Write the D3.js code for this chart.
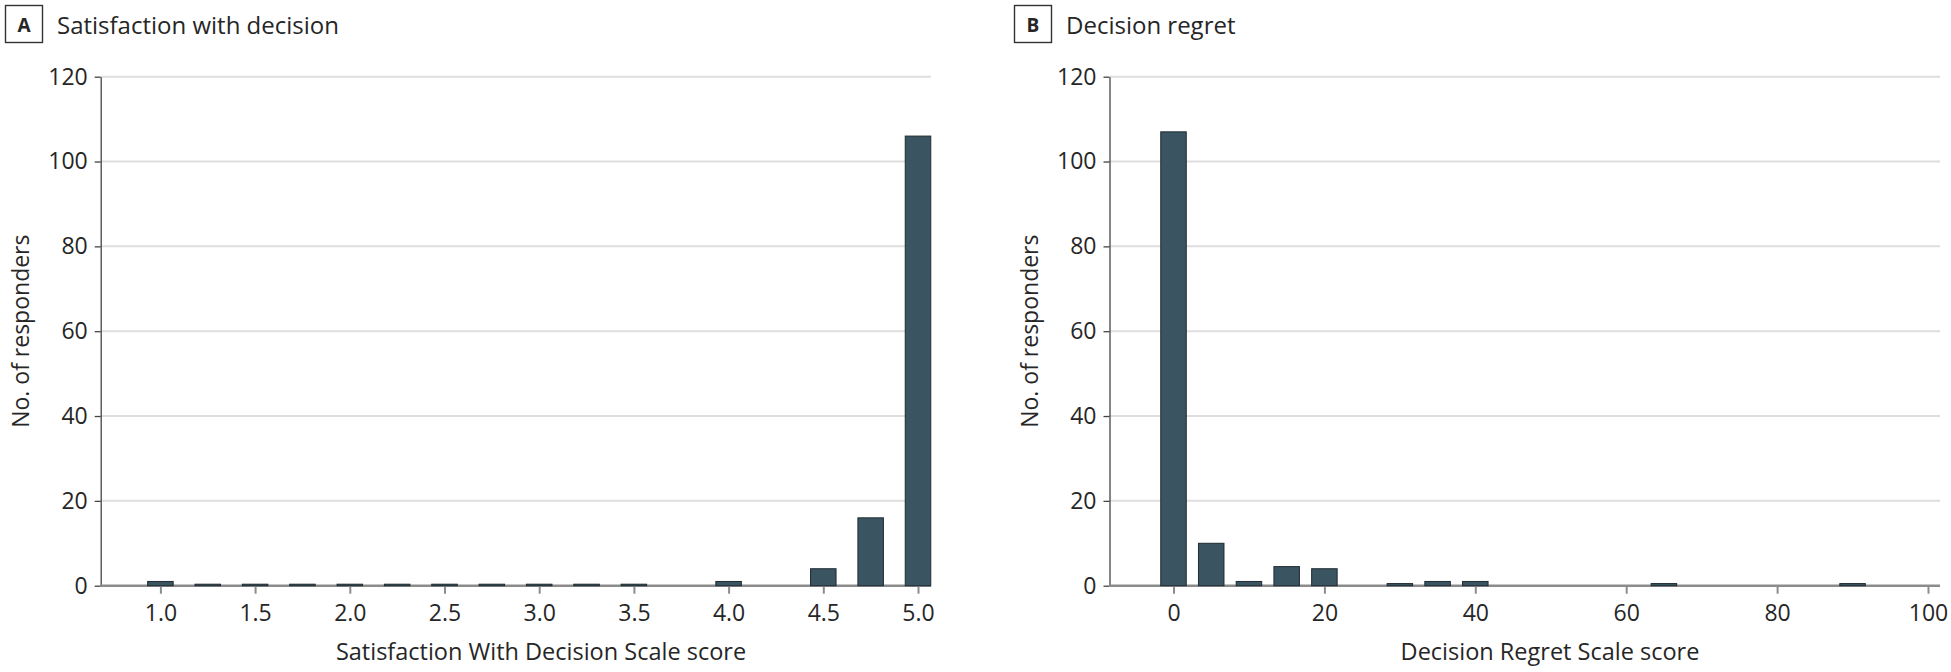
<!DOCTYPE html>
<html>
<head>
<meta charset="utf-8">
<script src="https://cdn.jsdelivr.net/npm/d3@7"></script>
<style>
  body { margin: 0; background: #fff; }
  svg text { font-family: 'Open Sans', 'Noto Sans', sans-serif; fill: #262626; }
</style>
</head>
<body>
<div id="view"></div>
<script>
// panel A: satisfaction with decision
var satScores = [1.0, 1.25, 1.5, 1.75, 2.0, 2.25, 2.5, 2.75, 3.0, 3.25, 3.5, 4.0, 4.5, 4.75, 5.0];
var satCounts = [1, 0, 0, 0, 0, 0, 0, 0, 0, 0, 0, 1, 4, 16, 106];
var satTicks = [1.0, 1.5, 2.0, 2.5, 3.0, 3.5, 4.0, 4.5, 5.0];

// panel B: decision regret
var regretScores = [0, 5, 10, 15, 20, 30, 35, 40, 65, 90];
var regretCounts = [107, 10, 1, 4.5, 4, 0.5, 1, 1, 0.5, 0.5];
var regretTicks = [0, 20, 40, 60, 80, 100];

var countTicks = [0, 20, 40, 60, 80, 100, 120];

var W = 1951, H = 672;
var Y_TOP = 76.7, Y_BASE = 585.7;
var BAR_W = 25.5;

var svg = d3.select("#view").append("svg").attr("width", W).attr("height", H);

var y = d3.scaleLinear().domain([0, 120]).range([Y_BASE, Y_TOP]);

function draw_panel(p) {
  var g = svg.append("g");
  var x = d3.scaleLinear().domain(p.domain).range(p.range);

  // gridlines
  g.selectAll("line.grid").data(countTicks.slice(1)).enter().append("line")
    .attr("x1", p.left).attr("x2", p.right)
    .attr("y1", y).attr("y2", y)
    .attr("stroke", "#dedede").attr("stroke-width", 2);

  // y axis
  var ya = g.append("g").attr("transform", "translate(" + p.left + ",0)")
    .call(d3.axisLeft(y).tickValues(countTicks).tickSize(6).tickSizeOuter(0).tickPadding(7));
  ya.select(".domain").attr("stroke", "#444").attr("stroke-width", 1.3);
  ya.selectAll(".tick line").attr("stroke", "#444").attr("stroke-width", 1.3);
  ya.selectAll(".tick text").style("font-size", "23px").attr("fill", "#262626");

  // x axis
  var xa = g.append("g").attr("transform", "translate(0," + Y_BASE + ")")
    .call(d3.axisBottom(x).tickValues(p.ticks).tickFormat(p.format).tickSize(8).tickSizeOuter(0).tickPadding(11));
  xa.select(".domain").remove();
  xa.selectAll(".tick line").attr("stroke", "#8c8c8c").attr("stroke-width", 2);
  xa.selectAll(".tick text").style("font-size", "23px").attr("fill", "#262626");

  // baseline (under the bars, so zero bars show as dark strokes)
  g.append("line").attr("x1", p.left).attr("x2", p.right)
    .attr("y1", Y_BASE).attr("y2", Y_BASE)
    .attr("stroke", "#8c8c8c").attr("stroke-width", 2.5);

  // bars
  g.selectAll("rect.bar").data(p.scores).enter().append("rect")
    .attr("x", function(d) { return x(d) - BAR_W / 2; })
    .attr("width", BAR_W)
    .attr("y", function(d, i) { return Math.min(y(p.counts[i]), Y_BASE - 1.5); })
    .attr("height", function(d, i) { return Math.max(Y_BASE - y(p.counts[i]), 1.5); })
    .attr("fill", "#3a5561").attr("stroke", "#1e2b31").attr("stroke-width", 1);

  // panel letter + title
  g.append("rect").attr("x", p.boxX + 0.5).attr("y", 5.5).attr("width", 37).attr("height", 37)
    .attr("fill", "none").attr("stroke", "#333").attr("stroke-width", 1.4);
  g.append("text").attr("x", p.boxX + 19).attr("y", 32).attr("text-anchor", "middle")
    .style("font-size", "19px").style("font-weight", "bold").text(p.letter);
  g.append("text").attr("x", p.boxX + 52).attr("y", 34).style("font-size", "24px").text(p.title);

  // axis titles
  g.append("text").attr("transform", "translate(" + (p.left - 72) + "," + ((Y_TOP + Y_BASE) / 2) + ") rotate(-90)")
    .attr("text-anchor", "middle").style("font-size", "23px").text("No. of responders");
  g.append("text").attr("x", p.xLabelX).attr("y", 660).attr("text-anchor", "middle")
    .style("font-size", "23.5px").text(p.xLabel);
}

draw_panel({
  letter: "A", title: "Satisfaction with decision", boxX: 5,
  left: 100.7, right: 931, domain: [1, 5], range: [160.4, 918],
  scores: satScores, counts: satCounts, ticks: satTicks, format: d3.format(".1f"),
  xLabel: "Satisfaction With Decision Scale score", xLabelX: 541
});

draw_panel({
  letter: "B", title: "Decision regret", boxX: 1014,
  left: 1109.5, right: 1940, domain: [0, 100], range: [1173.5, 1928],
  scores: regretScores, counts: regretCounts, ticks: regretTicks, format: d3.format("d"),
  xLabel: "Decision Regret Scale score", xLabelX: 1550
});
</script>
</body>
</html>
